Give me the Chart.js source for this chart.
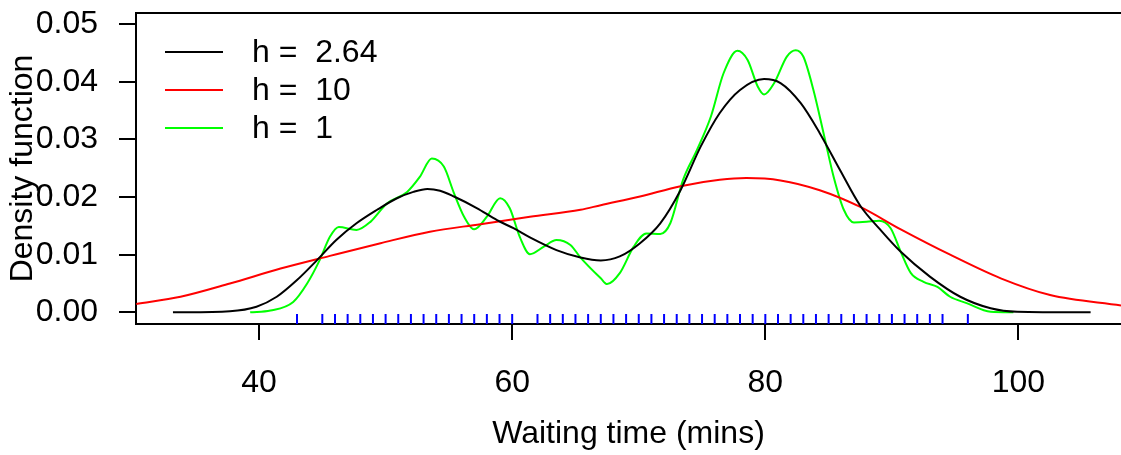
<!DOCTYPE html>
<html><head><meta charset="utf-8">
<script src="https://cdn.jsdelivr.net/npm/chart.js@4/dist/chart.umd.min.js"></script>
<style>html,body{margin:0;padding:0;background:#fff;overflow:hidden}canvas{display:block}</style>
</head><body>
<canvas id="c" width="1121" height="455" style="width:1121px;height:455px"></canvas>
<script>
const xTicks = [40, 60, 80, 100];
const yTicks = [0, 0.01, 0.02, 0.03, 0.04, 0.05];
const seriesLabels = ['h =  2.64', 'h =  10', 'h =  1'];
const rugValues = [43,45,46,47,48,49,50,51,52,53,54,55,56,57,58,59,60,62,63,64,65,66,67,68,69,70,71,72,73,74,75,76,77,78,79,80,81,82,83,84,85,86,87,88,89,90,91,92,93,94,96];

const blackX = [33.2,37.7,39.8,41.4,43.0,44.6,46.1,47.7,49.3,50.9,52.2,53.3,54.3,55.4,57.2,58.8,60.1,61.4,63.5,65.4,67.0,68.5,70.1,71.7,73.3,74.9,76.4,78.0,79.9,81.2,82.8,84.3,85.9,87.5,89.1,90.7,93.0,95.4,97.8,99.9,105.7];
const blackY = [0,0.0002,0.00097,0.0027,0.0056,0.0091,0.01255,0.01545,0.01776,0.0198,0.0209,0.0214,0.0211,0.0201,0.0181,0.0160,0.0146,0.0130,0.0108,0.0095,0.0090,0.0097,0.0120,0.01545,0.0212,0.0288,0.0346,0.0386,0.0405,0.0398,0.0363,0.0311,0.0247,0.0185,0.0143,0.0105,0.0062,0.0027,0.0007,0.0001,0];

const redX = [30.3,33.8,37.7,41.7,45.6,49.6,53.5,57.5,61.4,65.4,67.0,70.1,73.3,76.4,78.5,81.2,84.3,87.5,90.7,94.6,98.6,102.5,108.1];
const redY = [0.00144,0.0027,0.0050,0.0076,0.0098,0.0120,0.0140,0.0153,0.0166,0.0178,0.0186,0.0201,0.0219,0.0230,0.0233,0.0229,0.0212,0.0183,0.0144,0.0100,0.0059,0.0030,0.0012];

const greenX = [39.3,40.9,42.7,43.8,44.8,45.6,46.3,47.7,48.8,50.1,51.7,52.7,53.65,54.6,55.4,56.2,57.0,58.0,59.05,59.8,60.6,61.4,62.5,63.5,64.6,65.4,67.0,67.5,68.5,69.6,70.6,71.7,72.5,73.5,74.6,75.7,76.7,77.8,78.6,79.4,79.9,80.7,81.7,82.4,83.0,83.8,84.6,85.4,86.2,87.0,88.0,89.0,89.9,90.7,91.5,92.5,93.6,94.6,95.9,97.8,99.6];
const greenY = [0,0.0003,0.0018,0.0050,0.0091,0.0131,0.0148,0.0143,0.0157,0.0189,0.0209,0.0235,0.0267,0.0253,0.0207,0.0166,0.0144,0.0166,0.0198,0.0181,0.0131,0.0101,0.0114,0.01255,0.0117,0.0095,0.0059,0.0049,0.0068,0.0114,0.0137,0.0136,0.0155,0.0230,0.0282,0.0340,0.0415,0.0454,0.0438,0.0392,0.0378,0.0398,0.0444,0.0455,0.0444,0.0386,0.0311,0.0235,0.0178,0.0156,0.0157,0.0159,0.0146,0.0105,0.0068,0.0053,0.0044,0.0027,0.0016,0.0001,0];

const FONT = '"Liberation Sans", Arial, Helvetica, sans-serif';
const FS = 32;
const pts = (xs, ys) => xs.map((x, i) => ({x, y: ys[i]}));
const RUG_Y = -0.00116;

const boxPlugin = {
  id: 'box',
  afterDraw(chart) {
    const {ctx, chartArea: a} = chart;
    ctx.save();
    ctx.strokeStyle = '#000'; ctx.lineWidth = 2;
    ctx.beginPath(); ctx.moveTo(a.left - 1, a.top); ctx.lineTo(a.right + 8, a.top); ctx.stroke();
    const lines = chart.data.datasets.slice(0, 3);
    ctx.font = FS + 'px ' + FONT;
    ctx.textBaseline = 'middle'; ctx.textAlign = 'left';
    lines.forEach((ds, i) => {
      const y = 52 + i * 38;
      ctx.strokeStyle = ds.borderColor; ctx.lineWidth = 2;
      ctx.beginPath(); ctx.moveTo(165, y); ctx.lineTo(223, y); ctx.stroke();
      ctx.fillStyle = '#000';
      ctx.fillText(ds.label, 252, y + 1);
    });
    ctx.restore();
  }
};

new Chart(document.getElementById('c'), {
  type: 'scatter',
  data: {
    datasets: [
      {label: seriesLabels[0], data: pts(blackX, blackY), showLine: true, borderColor: '#000000', borderWidth: 2, pointRadius: 0, cubicInterpolationMode: 'monotone'},
      {label: seriesLabels[1], data: pts(redX, redY), showLine: true, borderColor: '#ff0000', borderWidth: 2, pointRadius: 0, cubicInterpolationMode: 'monotone'},
      {label: seriesLabels[2], data: pts(greenX, greenY), showLine: true, borderColor: '#00ff00', borderWidth: 2, pointRadius: 0, cubicInterpolationMode: 'monotone'},
      {label: 'rug', data: rugValues.map(v => ({x: v, y: RUG_Y})), showLine: false, pointStyle: 'line', rotation: 90, pointRadius: 5, borderColor: '#0000ff', borderWidth: 2, clip: false}
    ]
  },
  options: {
    responsive: false, animation: false, devicePixelRatio: 1,
    layout: {autoPadding: false, padding: {top: 13, left: 0, right: 0, bottom: 0}},
    plugins: {legend: {display: false}, tooltip: {enabled: false}},
    scales: {
      x: {
        type: 'linear', min: 30.28, max: 108.1,
        afterBuildTicks: s => { s.ticks = xTicks.map(v => ({value: v})); },
        afterFit: s => { s.height = 131; s.paddingLeft = 0; s.paddingRight = 0; },
        ticks: {font: {family: FONT, size: FS}, color: '#000', padding: 24, maxRotation: 0, autoSkip: false, callback: v => String(v)},
        grid: {drawOnChartArea: false, drawTicks: true, tickLength: 16, color: '#000', lineWidth: 2},
        border: {display: true, color: '#000', width: 2},
        title: {display: true, text: 'Waiting time (mins)', color: '#000', font: {family: FONT, size: FS}, padding: {top: 0, bottom: 2}}
      },
      y: {
        min: -0.00203, max: 0.05196,
        afterBuildTicks: s => { s.ticks = yTicks.map(v => ({value: v})); },
        afterFit: s => { s.width = 136; s.paddingTop = 0; s.paddingBottom = 0; },
        ticks: {font: {family: FONT, size: FS}, color: '#000', padding: 21, autoSkip: false, callback: v => v.toFixed(2)},
        grid: {drawOnChartArea: false, drawTicks: true, tickLength: 17, color: '#000', lineWidth: 2},
        border: {display: true, color: '#000', width: 2},
        title: {display: true, text: 'Density function', color: '#000', font: {family: FONT, size: FS}, padding: {top: 4, bottom: 0}}
      }
    }
  },
  plugins: [boxPlugin]
});
</script>
</body></html>
